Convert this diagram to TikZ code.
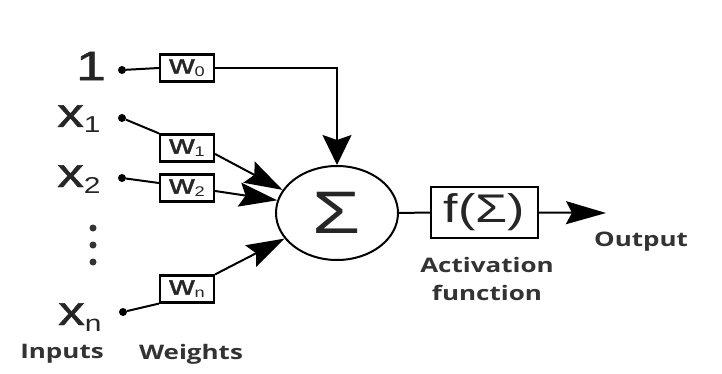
\documentclass[tikz,border=0pt]{standalone}
\usepackage{graphicx}
\usepackage{fontspec}
\setmainfont{Liberation Sans}
\newfontfamily\medsans[FakeBold=1.2]{Liberation Sans}
\newfontfamily\boldlab{Open Sans}
\usetikzlibrary{arrows.meta,shapes.geometric}
\newcommand\sx[1]{\scalebox{1.3}[1]{#1}}
\newcommand\lowsub[3]{\raisebox{-#3}{\rmfamily\fontsize{#2}{#2}\selectfont #1}}
\begin{document}
\begin{tikzpicture}[x=1pt,y=-1pt,
  wbox/.style={draw, line width=2.2pt, minimum width=54pt, minimum height=27pt, inner sep=0pt, font=\medsans\fontsize{27}{27}\selectfont, text=black!85},
  dotn/.style={circle, fill, inner sep=0pt, minimum size=8pt},
  smalldot/.style={circle, fill=black!80, inner sep=0pt, minimum size=7pt},
  inlbl/.style={font=\medsans\fontsize{41}{41}\selectfont, text=black!85, inner sep=0pt},
  lbl/.style={font=\boldlab\bfseries\fontsize{20}{28}\selectfont, text=black!80, inner sep=0pt},
  harr/.style={-{Stealth[length=40pt,width=23pt,inset=6pt]}, line width=2pt},
  varr/.style={-{Stealth[length=30pt,width=29pt,inset=5pt]}, line width=2pt},
  darr/.style={-{Stealth[length=38pt,width=24pt,inset=6pt]}, line width=2pt},
  ln/.style={line width=2pt}]
\useasboundingbox[fill=white] (0,0) rectangle (722,374);
% inputs
\node[inlbl] (one) at (91,66) {\sx{1}};
\node[inlbl, anchor=base west] (x1) at (57,127) {\sx{x\lowsub{1}{23}{6pt}}};
\node[inlbl, anchor=base west] (x2) at (57,187) {\sx{x\lowsub{2}{23}{6pt}}};
\node[inlbl, anchor=base west] (xn) at (58,325) {\sx{x\lowsub{n}{23}{6pt}}};
\node[smalldot] (v1) at (93,228) {};
\node[smalldot] (v2) at (93,245) {};
\node[smalldot] (v3) at (93,262) {};
% input dots
\node[dotn] (d0) at (122,70) {};
\node[dotn] (d1) at (122,118) {};
\node[dotn] (d2) at (122,178) {};
\node[dotn] (dn) at (123,312) {};
% weights
\node[wbox] (w0) at (187,68) {\sx{w\lowsub{0}{14}{3pt}}};
\node[wbox] (w1) at (187,148) {\sx{w\lowsub{1}{14}{3pt}}};
\node[wbox] (w2) at (187,188) {\sx{w\lowsub{2}{14}{3pt}}};
\node[wbox] (wn) at (187,289) {\sx{w\lowsub{n}{14}{3pt}}};
% summation
\node[draw, ellipse, line width=2pt, minimum width=122pt, minimum height=94pt, inner sep=0pt, font=\fontsize{60}{60}\selectfont, text=black!85] (sig) at (337,213) {\sx{Σ}};
\node[draw, line width=2.2pt, minimum width=107pt, minimum height=51pt, inner sep=0pt, font=\fontsize{40}{40}\selectfont, text=black!85] (fb) at (484.5,212.5) {\sx{f(Σ)}};
\coordinate (out) at (606,213);
% labels
\node[lbl] (outl) at (641,242) {\sx{Output}};
\node[lbl] (actl) at (487,265) {\sx{Activation}};
\node[lbl] (funl) at (487,293) {\sx{function}};
\node[lbl] (inl) at (62,354) {\sx{Inputs}};
\node[lbl] (wl) at (191,354) {\sx{Weights}};
% connectors
\draw[ln] (d0) -- (w0.west);
\draw[ln] (d1) -- (w1.north west);
\draw[ln] (d2) -- ([yshift=5pt]w2.west);
\draw[ln] (dn) -- (wn.south west);
\draw[varr] (w0.east) -| (sig.north);
\draw[darr] ([yshift=-6pt]w1.east) -- (sig.157);
\draw[darr] ([yshift=-3pt]w2.east) -- (sig.168);
\draw[darr] (wn.north east) -- (sig.206);
\draw[ln] (sig.east) -- (fb.west);
\draw[harr] (fb.east) -- (out);
\end{tikzpicture}
\end{document}
